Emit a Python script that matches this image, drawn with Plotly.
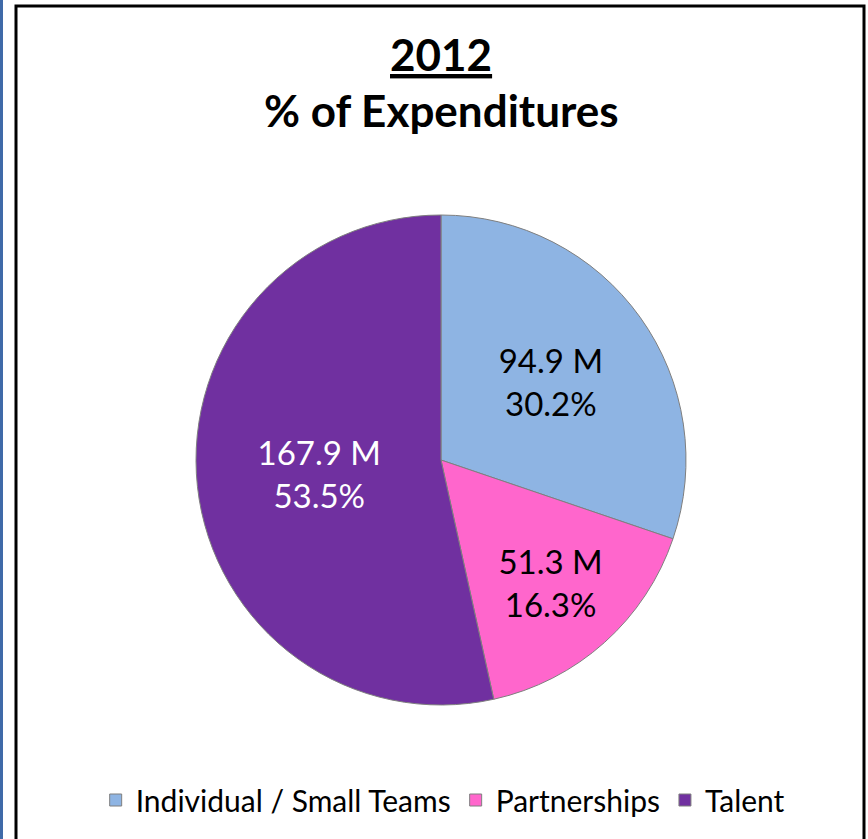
import plotly.graph_objects as go

categories = ["Individual / Small Teams", "Partnerships", "Talent"]
values_m = [94.9, 51.3, 167.9]
percent_labels = ["30.2%", "16.3%", "53.5%"]
title_year = "2012"
title_sub = "% of Expenditures"

colors = ["#8EB4E3", "#FF66CC", "#7030A0"]
text_colors = ["#000000", "#000000", "#FFFFFF"]
FONT = "Lato"

W, H = 868, 839

labels_text = [f"{v} M<br>{p}" for v, p in zip(values_m, percent_labels)]

fig = go.Figure()
fig.add_trace(go.Pie(
    labels=categories,
    values=values_m,
    text=labels_text,
    textinfo="text",
    textposition="inside",
    insidetextorientation="horizontal",
    insidetextfont=dict(family=FONT, size=33, color=text_colors),
    sort=False,
    direction="clockwise",
    rotation=0,
    marker=dict(colors=colors, line=dict(color="#7F7F7F", width=1)),
    domain=dict(x=[196 / W, 686 / W], y=[1 - 705 / H, 1 - 215 / H]),
    hoverinfo="label+value+percent",
))

fig.update_layout(
    width=W, height=H,
    margin=dict(l=0, r=0, t=0, b=0),
    paper_bgcolor="white",
    plot_bgcolor="white",
    font=dict(family=FONT, color="#000000"),
    showlegend=True,
    legend=dict(
        orientation="h",
        x=0.51, xanchor="center",
        y=1 - 800 / H, yanchor="middle",
        font=dict(family=FONT, size=30, color="#000000"),
        itemwidth=30,
        traceorder="normal",
    ),
    annotations=[
        dict(text=f"<b><u>{title_year}</u></b>", x=441 / W, y=1 - 54 / H,
             xref="paper", yref="paper", showarrow=False,
             xanchor="center", yanchor="middle",
             font=dict(family=FONT, size=44, color="#000000")),
        dict(text=f"<b>{title_sub}</b>", x=441 / W, y=1 - 110 / H,
             xref="paper", yref="paper", showarrow=False,
             xanchor="center", yanchor="middle",
             font=dict(family=FONT, size=44, color="#000000")),
    ],
    shapes=[
        dict(type="rect", xref="paper", yref="paper",
             x0=16 / W, x1=864 / W, y0=-0.02, y1=1 - 6 / H,
             line=dict(color="#000000", width=3), fillcolor="rgba(0,0,0,0)",
             layer="below"),
        dict(type="line", xref="paper", yref="paper",
             x0=1.5 / W, x1=1.5 / W, y0=0, y1=1,
             line=dict(color="#3F6AA8", width=3)),
    ],
)

fig.write_html("out.html", config={"displayModeBar": False},
               post_script="document.body.style.margin='0';")
